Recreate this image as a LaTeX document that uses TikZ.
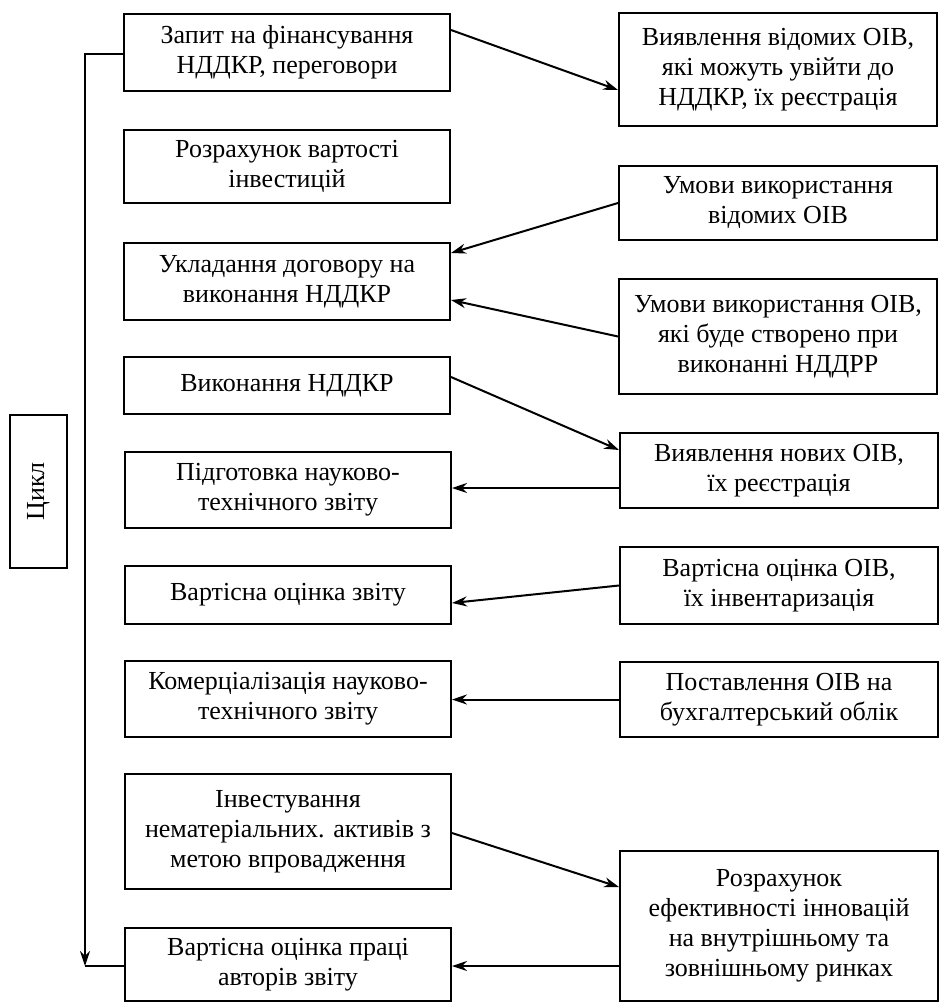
\documentclass[tikz,border=0pt]{standalone}
\usepackage{fontspec}
\setmainfont{Liberation Serif}
\usetikzlibrary{arrows.meta,calc}
\begin{document}
\begin{tikzpicture}[x=1pt,y=-1pt,
  box/.style={draw, line width=2pt, align=center, inner sep=0pt, font=\fontsize{26}{30}\selectfont},
  lbox/.style={box, minimum width=326pt},
  rbox/.style={box, minimum width=318pt},
  arr/.style={line width=2pt, -{Stealth[length=15pt,width=10pt]}},
  ln/.style={line width=2pt}]
\useasboundingbox (0,0) rectangle (939,1003);
% left column
\node[lbox, minimum height=77pt] (L1) at (287,52.5) {Запит на фінансування\\НДДКР, переговори};
\node[lbox, minimum height=73pt] (L2) at (287,166.5) {Розрахунок вартості\\інвестицій};
\node[lbox, minimum height=77pt] (L3) at (287,281.5) {Укладання договору на\\виконання НДДКР};
\node[lbox, minimum height=57pt] (L4) at (287,385.5) {Виконання НДДКР};
\node[lbox, minimum height=76pt] (L5) at (288,490) {Підготовка науково-\\технічного звіту};
\node[lbox, minimum height=58pt] (L6) at (288,595) {Вартісна оцінка звіту};
\node[lbox, minimum height=76pt] (L7) at (288,699) {Комерціалізація науково-\\технічного звіту};
\node[lbox, minimum height=115pt] (L8) at (288,831.5) {Інвестування\\нематеріальних. активів з\\метою впровадження};
\node[lbox, minimum height=73pt] (L9) at (288,964.5) {Вартісна оцінка праці\\авторів звіту};
% right column
\node[rbox, minimum height=113pt] (R1) at (778,69.5) {Виявлення відомих ОІВ,\\які можуть увійти до\\НДДКР, їх реєстрація};
\node[rbox, minimum height=74pt] (R2) at (778,203) {Умови використання\\відомих ОІВ};
\node[rbox, minimum height=115pt] (R3) at (778,336.5) {Умови використання ОІВ,\\які буде створено при\\виконанні НДДРР};
\node[rbox, minimum height=75pt] (R4) at (779,470.5) {Виявлення нових ОІВ,\\їх реєстрація};
\node[rbox, minimum height=77pt] (R5) at (779,585.5) {Вартісна оцінка ОІВ,\\їх інвентаризація};
\node[rbox, minimum height=75pt] (R6) at (779,699.5) {Поставлення ОІВ на\\бухгалтерський облік};
\node[rbox, minimum height=150pt] (R7) at (779,926) {Розрахунок\\ефективності інновацій\\на внутрішньому та\\зовнішньому ринках};
% cycle label
\node[box, minimum width=57pt, minimum height=153pt] (C) at (38.5,491.5) {};
\node[font=\fontsize{26}{30}\selectfont, rotate=90] (Ct) at (C.center) {Цикл};
% connectors
\draw[arr] ([yshift=22.5pt]L1.east) -- ([yshift=-20.5pt]R1.west);
\draw[arr] (R2.west) -- ([yshift=28.5pt]L3.east);
\draw[arr] (R3.west) -- ([yshift=-18.5pt]L3.east);
\draw[arr] ([yshift=8.5pt]L4.east) -- ([yshift=20.5pt]R4.west);
\draw[arr] ([yshift=-17.5pt]R4.west) -- ([yshift=-17.5pt]R4.west -| L5.east);
\draw[arr] (R5.west) -- ([yshift=-8pt]L6.east);
\draw[arr] (R6.west) -- (R6.west -| L7.east);
\draw[arr] ([yshift=-1.5pt]L8.east) -- ([yshift=39pt]R7.west);
\draw[arr] ([yshift=-40pt]R7.west) -- ([yshift=-40pt]R7.west -| L9.east);
% loop
\coordinate (corner) at (85,966);
\draw[arr] ([yshift=-2pt]L1.west) -| (corner);
\draw[ln] (corner) -- (corner -| L9.west);
\end{tikzpicture}
\end{document}
